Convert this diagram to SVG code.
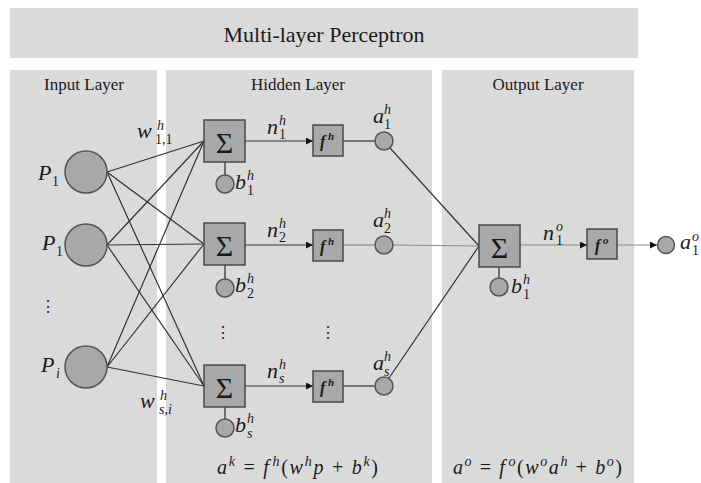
<svg xmlns="http://www.w3.org/2000/svg" width="701" height="483" viewBox="0 0 701 483">
<defs>
<style>
.panel{fill:#dadada}
.t{font-family:"Liberation Serif",serif;fill:#1a1a1a}
.m{font-family:"Liberation Serif",serif;font-style:italic;font-size:22px;fill:#1a1a1a}
.s{font-family:"Liberation Serif",serif;font-style:italic;font-size:14px;fill:#1a1a1a}
.d{font-family:"Liberation Serif",serif;font-style:normal;font-size:14px;fill:#1a1a1a}
.node{fill:#a8a8a8;stroke:#555;stroke-width:1.5}
.box{fill:#a8a8a8;stroke:#4a4a4a;stroke-width:1.5}
.sig{font-family:"Liberation Serif",serif;font-size:30px;fill:#1a1a1a;text-anchor:middle}
.fx{font-family:"Liberation Serif",serif;font-style:italic;font-weight:bold;font-size:16px;fill:#1a1a1a}
.fxs{font-family:"Liberation Serif",serif;font-style:italic;font-weight:bold;font-size:11px;fill:#1a1a1a}
.edge{stroke:#333;stroke-width:1.2;fill:none}
.g{stroke:#8c8c8c}
.stem{stroke:#4a4a4a;stroke-width:1.5}
.fm{font-family:"Liberation Serif",serif;font-style:italic;font-size:20px;fill:#1a1a1a}
</style>
<marker id="arr" viewBox="0 0 10 10" refX="10" refY="5" markerWidth="7" markerHeight="7" markerUnits="userSpaceOnUse" orient="auto">
<path d="M0,0 L10,5 L0,10 z" fill="#111"/>
</marker>
</defs>
<rect width="701" height="483" fill="#fff"/>
<g id="panels">
<rect class="panel" x="10" y="8" width="628" height="50"/>
<rect class="panel" x="10" y="70" width="147" height="413"/>
<rect class="panel" x="166" y="70" width="266" height="413"/>
<rect class="panel" x="442" y="70" width="192" height="413"/>
<text class="t" x="324" y="42" font-size="22" text-anchor="middle">Multi-layer Perceptron</text>
<text class="t" x="84" y="90" font-size="17" text-anchor="middle">Input Layer</text>
<text class="t" x="298" y="90" font-size="17" text-anchor="middle">Hidden Layer</text>
<text class="t" x="538" y="90" font-size="17" text-anchor="middle">Output Layer</text>
</g>
<g id="connectors">
<line class="edge" x1="107" y1="172" x2="204" y2="141"/>
<line class="edge" x1="107" y1="172" x2="204" y2="244"/>
<line class="edge" x1="107" y1="172" x2="204" y2="386"/>
<line class="edge" x1="107" y1="245" x2="204" y2="141"/>
<line class="edge" x1="107" y1="245" x2="204" y2="244"/>
<line class="edge" x1="107" y1="245" x2="204" y2="386"/>
<line class="edge" x1="107" y1="367" x2="204" y2="141"/>
<line class="edge" x1="107" y1="367" x2="204" y2="244"/>
<line class="edge" x1="107" y1="367" x2="204" y2="386"/>
<line class="stem" x1="225" y1="162" x2="225" y2="175"/>
<line class="stem" x1="225" y1="265" x2="225" y2="279"/>
<line class="stem" x1="225" y1="407" x2="225" y2="419"/>
<line class="edge" x1="245" y1="141" x2="313" y2="141" marker-end="url(#arr)"/>
<line class="edge" x1="245" y1="245" x2="313" y2="245" marker-end="url(#arr)"/>
<line class="edge" x1="245" y1="386" x2="313" y2="386" marker-end="url(#arr)"/>
<line class="edge" x1="343" y1="141" x2="375" y2="141"/>
<line class="edge g" x1="343" y1="245" x2="375" y2="245"/>
<line class="edge" x1="343" y1="386" x2="375" y2="386"/>
<line class="edge" x1="390" y1="148" x2="479" y2="246"/>
<line class="edge g" x1="393" y1="245" x2="479" y2="246"/>
<line class="edge" x1="389" y1="378" x2="479" y2="246"/>
<line class="stem" x1="499" y1="267" x2="499" y2="278"/>
<line class="edge g" x1="520" y1="245" x2="587" y2="245" marker-end="url(#arr)"/>
<line class="edge g" x1="617" y1="245" x2="657" y2="245" marker-end="url(#arr)"/>
</g>
<g id="input-1">
<circle class="node" cx="86" cy="172" r="21"/>
<text class="m" x="38" y="180">P</text><text class="d" x="52" y="186">1</text>
</g>
<g id="input-2">
<circle class="node" cx="86" cy="245" r="21"/>
<text class="m" x="42" y="250">P</text><text class="d" x="56" y="256">1</text>
</g>
<g id="input-dots"><text class="t" x="48" y="312" font-size="16" text-anchor="middle">⋮</text></g>
<g id="input-i">
<circle class="node" cx="86" cy="367" r="21"/>
<text class="m" x="41" y="372">P</text><text class="s" x="56" y="378">i</text>
</g>
<g id="weight-11">
<text class="m" x="137" y="138">w</text><text class="s" x="157" y="130">h</text><text class="d" x="155" y="144">1,1</text>
</g>
<g id="weight-si">
<text class="m" x="140" y="408">w</text><text class="s" x="160" y="400">h</text><text class="s" x="159" y="414">s,i</text>
</g>
<g id="sum-1">
<rect class="box" x="204" y="120" width="41" height="42"/><text class="sig" x="224.5" y="153">Σ</text>
</g>
<g id="bias-1">
<circle class="node" cx="225" cy="184" r="9"/>
<text class="m" x="235" y="189">b</text><text class="s" x="247" y="180">h</text><text class="d" x="247" y="195">1</text>
</g>
<g id="sum-2">
<rect class="box" x="204" y="223" width="41" height="42"/><text class="sig" x="224.5" y="256">Σ</text>
</g>
<g id="bias-2">
<circle class="node" cx="225" cy="288" r="9"/>
<text class="m" x="235" y="292">b</text><text class="s" x="247" y="283">h</text><text class="d" x="247" y="298">2</text>
</g>
<g id="hidden-dots">
<text class="t" x="223" y="338" font-size="16" text-anchor="middle">⋮</text>
<text class="t" x="328" y="338" font-size="16" text-anchor="middle">⋮</text>
</g>
<g id="sum-s">
<rect class="box" x="204" y="365" width="41" height="42"/><text class="sig" x="224.5" y="398">Σ</text>
</g>
<g id="bias-s">
<circle class="node" cx="225" cy="428" r="9"/>
<text class="m" x="235" y="432">b</text><text class="s" x="247" y="423">h</text><text class="s" x="247" y="438">s</text>
</g>
<g id="net-labels">
<text class="m" x="267" y="134">n</text><text class="s" x="279" y="125">h</text><text class="d" x="279" y="139">1</text>
<text class="m" x="267" y="237">n</text><text class="s" x="279" y="228">h</text><text class="d" x="279" y="242">2</text>
<text class="m" x="267" y="378">n</text><text class="s" x="279" y="369">h</text><text class="s" x="279" y="383">s</text>
</g>
<g id="f-1">
<rect class="box" x="313" y="125" width="30" height="31"/>
<text class="fx" x="320" y="147">f</text><text class="fxs" x="328" y="140">h</text>
</g>
<g id="f-2">
<rect class="box" x="313" y="230" width="30" height="31"/>
<text class="fx" x="320" y="252">f</text><text class="fxs" x="328" y="245">h</text>
</g>
<g id="f-s">
<rect class="box" x="313" y="371" width="30" height="31"/>
<text class="fx" x="320" y="393">f</text><text class="fxs" x="328" y="386">h</text>
</g>
<g id="a-1">
<circle class="node" cx="384" cy="141" r="9"/>
<text class="m" x="373" y="123">a</text><text class="s" x="384" y="114">h</text><text class="d" x="384" y="129">1</text>
</g>
<g id="a-2">
<circle class="node" cx="384" cy="245" r="9"/>
<text class="m" x="373" y="227">a</text><text class="s" x="384" y="218">h</text><text class="d" x="384" y="233">2</text>
</g>
<g id="a-s">
<circle class="node" cx="384" cy="386" r="9"/>
<text class="m" x="373" y="370">a</text><text class="s" x="384" y="361">h</text><text class="s" x="384" y="376">s</text>
</g>
<g id="out-sum">
<rect class="box" x="479" y="225" width="41" height="42"/><text class="sig" x="499.5" y="258">Σ</text>
</g>
<g id="out-bias">
<circle class="node" cx="499" cy="287" r="9"/>
<text class="m" x="511" y="293">b</text><text class="s" x="523" y="284">h</text><text class="d" x="523" y="299">1</text>
</g>
<g id="out-net">
<text class="m" x="543" y="240">n</text><text class="s" x="556" y="231">o</text><text class="d" x="556" y="245">1</text>
</g>
<g id="f-o">
<rect class="box" x="587" y="229" width="30" height="30"/>
<text class="fx" x="595" y="251">f</text><text class="fxs" x="603" y="244">o</text>
</g>
<g id="a-out">
<circle class="node" cx="666" cy="245" r="8.5"/>
<text class="m" x="680" y="249">a</text><text class="s" x="692" y="241">o</text><text class="d" x="692" y="255">1</text>
</g>
<g id="formulas">
<text class="fm" x="217" y="474" textLength="161" lengthAdjust="spacing">a<tspan class="s" dy="-8">k</tspan><tspan dy="8" font-style="normal"> = </tspan>f<tspan class="s" dy="-8" dx="2">h</tspan><tspan dy="8" font-style="normal">(</tspan>w<tspan class="s" dy="-8">h</tspan><tspan dy="8">p</tspan><tspan font-style="normal"> + </tspan>b<tspan class="s" dy="-8">k</tspan><tspan dy="8" font-style="normal">)</tspan></text>
<text class="fm" x="453" y="474" textLength="169" lengthAdjust="spacing">a<tspan class="s" dy="-8">o</tspan><tspan dy="8" font-style="normal"> = </tspan>f<tspan class="s" dy="-8" dx="2">o</tspan><tspan dy="8" font-style="normal">(</tspan>w<tspan class="s" dy="-8">o</tspan><tspan dy="8">a</tspan><tspan class="s" dy="-8">h</tspan><tspan dy="8" font-style="normal"> + </tspan>b<tspan class="s" dy="-8">o</tspan><tspan dy="8" font-style="normal">)</tspan></text>
</g>
</svg>
